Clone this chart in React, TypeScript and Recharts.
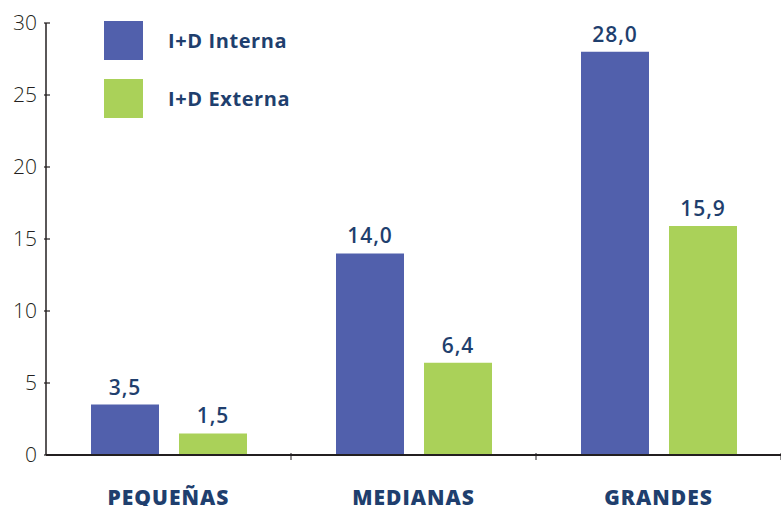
import React from "react";
import { BarChart, Bar, XAxis, YAxis, LabelList } from "recharts";

const categories = ["PEQUEÑAS", "MEDIANAS", "GRANDES"];
const interna = [3.5, 14.0, 28.0];
const externa = [1.5, 6.4, 15.9];
const yTicks = [0, 5, 10, 15, 20, 25, 30];
const seriesNames = ["I+D Interna", "I+D Externa"];

const data = categories.map((c, i) => ({ name: c, interna: interna[i], externa: externa[i] }));

const BLUE = "#5160AC";
const GREEN = "#AAD159";
const NAVY = "#1F3F6E";
const INK = "#231F20";
const FONT = "'Open Sans', sans-serif";

const fmt = (v: number) => v.toFixed(1).replace(".", ",");

const YTick = (props: any) => {
  const { x, y, payload } = props;
  return (
    <g>
      <line x1={x} x2={x + 6} y1={y} y2={y} stroke={INK} strokeWidth={1.2} />
      <text x={x - 7} y={y} dy={7} textAnchor="end" fontSize={21} fontWeight={300} fill={INK} fontFamily={FONT}>
        {payload.value}
      </text>
    </g>
  );
};

const XTick = (props: any) => {
  const { x, y, payload } = props;
  const half = 245 / 2;
  return (
    <g>
      <line x1={x + half} x2={x + half} y1={y - 4} y2={y + 3} stroke={INK} strokeWidth={1} />
      <text x={x} y={y + 48} textAnchor="middle" fontSize={21} fontWeight={800} fill={NAVY} fontFamily={FONT} letterSpacing={1}>
        {payload.value}
      </text>
    </g>
  );
};

const LegendBox = () => (
  <div style={{ position: "absolute", left: 104, top: 21, fontFamily: FONT }}>
    {seriesNames.map((n, i) => (
      <div key={n} style={{ display: "flex", alignItems: "center", height: 39, marginBottom: 19 }}>
        <div style={{ width: 39, height: 39, background: i === 0 ? BLUE : GREEN }} />
        <span style={{ marginLeft: 25, fontSize: 20, fontWeight: 700, color: NAVY, letterSpacing: 0.6 }}>{n}</span>
      </div>
    ))}
  </div>
);

const labelStyle = { fontSize: 21, fontWeight: 600, fill: NAVY, fontFamily: FONT, letterSpacing: 1 };

export default function App() {
  return (
    <div style={{ width: 781, height: 506, position: "relative" }}>
      <style>{`body{margin:0}`}</style>
      <BarChart
        width={781}
        height={506}
        data={data}
        margin={{ top: 23, right: 0, bottom: 0, left: 0 }}
        barGap={20}
        barSize={68}
      >
        <XAxis
          dataKey="name"
          height={51}
          axisLine={{ stroke: INK, strokeWidth: 2 }}
          tickLine={false}
          tickSize={0}
          tick={<XTick />}
          interval={0}
        />
        <YAxis
          width={46}
          domain={[0, 30]}
          ticks={yTicks}
          axisLine={{ stroke: INK, strokeWidth: 1.5 }}
          tickLine={false}
          tickSize={0}
          tick={<YTick />}
          interval={0}
        />
        <Bar dataKey="interna" name={seriesNames[0]} fill={BLUE} isAnimationActive={false}>
          <LabelList dataKey="interna" position="top" offset={10} formatter={(v: any) => fmt(Number(v))}
            style={labelStyle} />
        </Bar>
        <Bar dataKey="externa" name={seriesNames[1]} fill={GREEN} isAnimationActive={false}>
          <LabelList dataKey="externa" position="top" offset={10} formatter={(v: any) => fmt(Number(v))}
            style={labelStyle} />
        </Bar>
      </BarChart>
      <LegendBox />
    </div>
  );
}
